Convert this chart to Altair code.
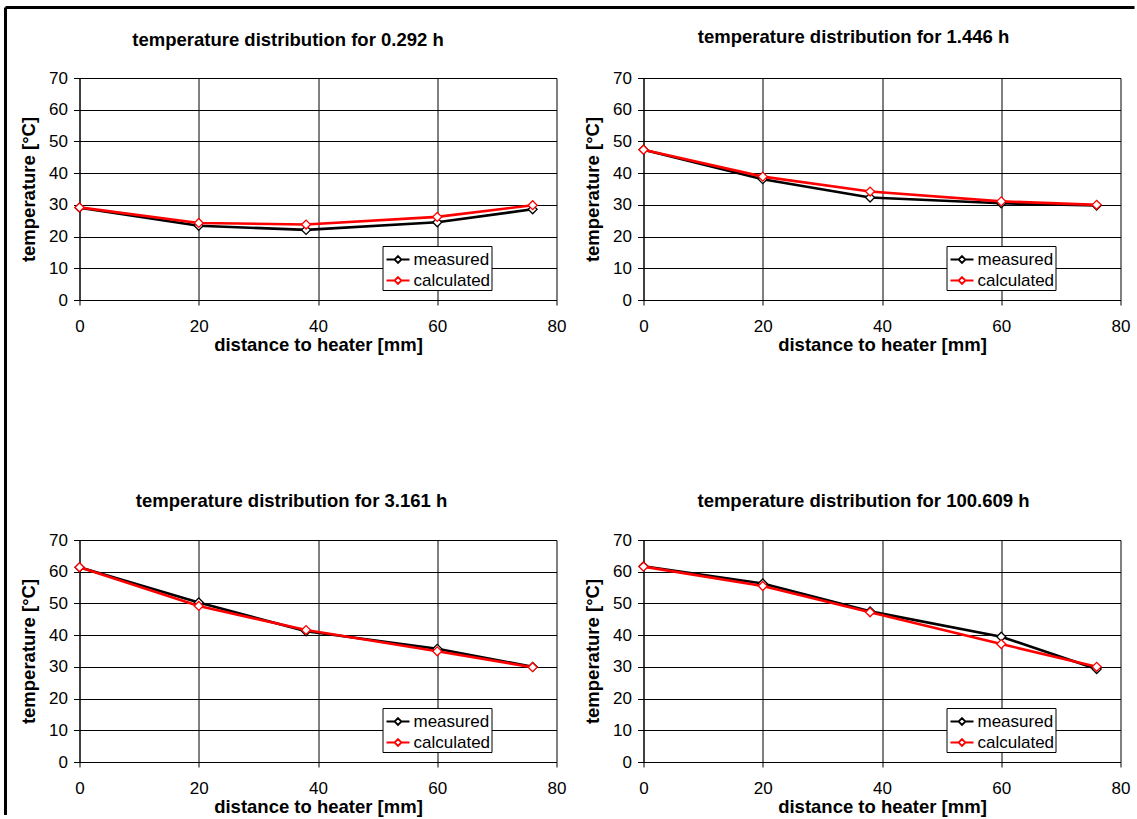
import altair as alt
import pandas as pd

# distances of the sensors from the heater [mm]
distance = [0, 20, 38, 60, 76]

# heating times shown in the four panels [h]
hours = ["0.292", "1.446", "3.161", "100.609"]

# temperatures [°C] per heating time
measured_0292 = [29.1, 23.4, 22.1, 24.5, 28.6]
calculated_0292 = [29.2, 24.3, 23.8, 26.2, 29.9]

measured_1446 = [47.4, 38.1, 32.3, 30.5, 29.8]
calculated_1446 = [47.4, 38.9, 34.2, 31.1, 30.0]

measured_3161 = [61.4, 50.3, 41.2, 35.7, 30.0]
calculated_3161 = [61.4, 49.2, 41.6, 34.9, 29.9]

measured_100609 = [61.7, 56.3, 47.5, 39.5, 29.3]
calculated_100609 = [61.6, 55.5, 47.2, 37.2, 30.0]

series_names = ["measured", "calculated"]
series_colors = ["#000000", "#ff0000"]

FONT = "Liberation Sans"
PLOT_W, PLOT_H = 477, 222

# legend glyph: a short line with an open diamond in the middle
LEGEND_GLYPH = "M-1,0L-0.3,0M0.3,0L1,0M0,-0.3L0.3,0L0,0.3L-0.3,0Z"


def make_frame(values_m, values_c):
    rows = []
    for name, vals in zip(series_names, [values_m, values_c]):
        for d, t in zip(distance, vals):
            rows.append({"distance": d, "temperature": t, "series": name})
    return pd.DataFrame(rows)


def panel(hour, values_m, values_c, title_dx, title_offset, with_border=False):
    df = make_frame(values_m, values_c)
    base = alt.Chart(df)

    legend = alt.Legend(
        title=None,
        orient="none",
        legendX=303,
        legendY=168,
        symbolType=LEGEND_GLYPH,
        symbolSize=529,
        symbolStrokeWidth=1.8,
        symbolFillColor="white",
        symbolOpacity=1,
        symbolOffset=2,
        labelFont=FONT,
        labelFontSize=17,
        labelColor="black",
        labelOffset=3,
        rowPadding=0,
        padding=1,
        strokeColor="black",
        fillColor="white",
    )
    stroke = alt.Stroke(
        "series:N",
        scale=alt.Scale(domain=series_names, range=series_colors),
        legend=legend,
    )
    x = alt.X(
        "distance:Q",
        scale=alt.Scale(domain=[0, 80], nice=False),
        axis=alt.Axis(
            values=[0, 20, 40, 60, 80],
            title="distance to heater [mm]",
            tickSize=5,
            labelPadding=13,
            titlePadding=1,
            labelFlush=False,
            labelOverlap=False,
        ),
    )
    y = alt.Y(
        "temperature:Q",
        scale=alt.Scale(domain=[0, 70], nice=False),
        axis=alt.Axis(
            values=list(range(0, 71, 10)),
            title="temperature [°C]",
            tickSize=6,
            labelPadding=6,
            titlePadding=10,
            labelFlush=False,
            labelOverlap=False,
        ),
    )

    layers = []
    for name in series_names:
        sub = base.transform_filter(alt.datum.series == name)
        layers.append(sub.mark_line(strokeWidth=2.6).encode(x=x, y=y, stroke=stroke))
        layers.append(
            sub.mark_point(shape="diamond", size=80, strokeWidth=1.3, opacity=1)
            .encode(x=x, y=y, stroke=stroke, fill=alt.value("white"), fillOpacity=alt.value(1))
        )

    if with_border:
        one = alt.Chart(pd.DataFrame({"k": [0]}))
        layers.append(
            one.mark_rule(color="black", strokeWidth=3).encode(
                x=alt.value(-74), x2=alt.value(1055), y=alt.value(-70.5)
            )
        )
        layers.append(
            one.mark_rule(color="black", strokeWidth=3).encode(
                x=alt.value(-74), y=alt.value(-70.5), y2=alt.value(737)
            )
        )

    return alt.layer(*layers).properties(
        width=PLOT_W,
        height=PLOT_H,
        title=alt.TitleParams(
            text=f"temperature distribution for {hour} h",
            font=FONT,
            fontSize=18.5,
            fontWeight="bold",
            color="black",
            frame="group",
            anchor="middle",
            dx=title_dx,
            offset=title_offset,
        ),
    )


tl = panel(hours[0], measured_0292, calculated_0292, -30, -43.5, with_border=True)
tr = panel(hours[1], measured_1446, calculated_1446, -28.5, 23)
bl = panel(hours[2], measured_3161, calculated_3161, -26.5, 21)
br = panel(hours[3], measured_100609, calculated_100609, -18.5, 21)

chart = (
    alt.concat(tl, tr, bl, br, columns=2, spacing={"row": 240, "column": 87}, bounds="flush")
    .resolve_scale(stroke="independent")
    .resolve_legend(stroke="independent")
    .properties(padding={"left": 3.5, "top": 6, "right": 0, "bottom": 0})
    .configure(font=FONT, background="white")
    .configure_view(stroke=None)
    .configure_axis(
        domainColor="black",
        domainWidth=1,
        tickColor="black",
        tickWidth=1,
        gridColor="black",
        gridWidth=1,
        gridOpacity=1,
        labelColor="black",
        labelFont=FONT,
        labelFontSize=17,
        titleColor="black",
        titleFont=FONT,
        titleFontSize=18.5,
        titleFontWeight="bold",
    )
)

chart.save("out.html", embed_options={"renderer": "svg", "actions": False})
